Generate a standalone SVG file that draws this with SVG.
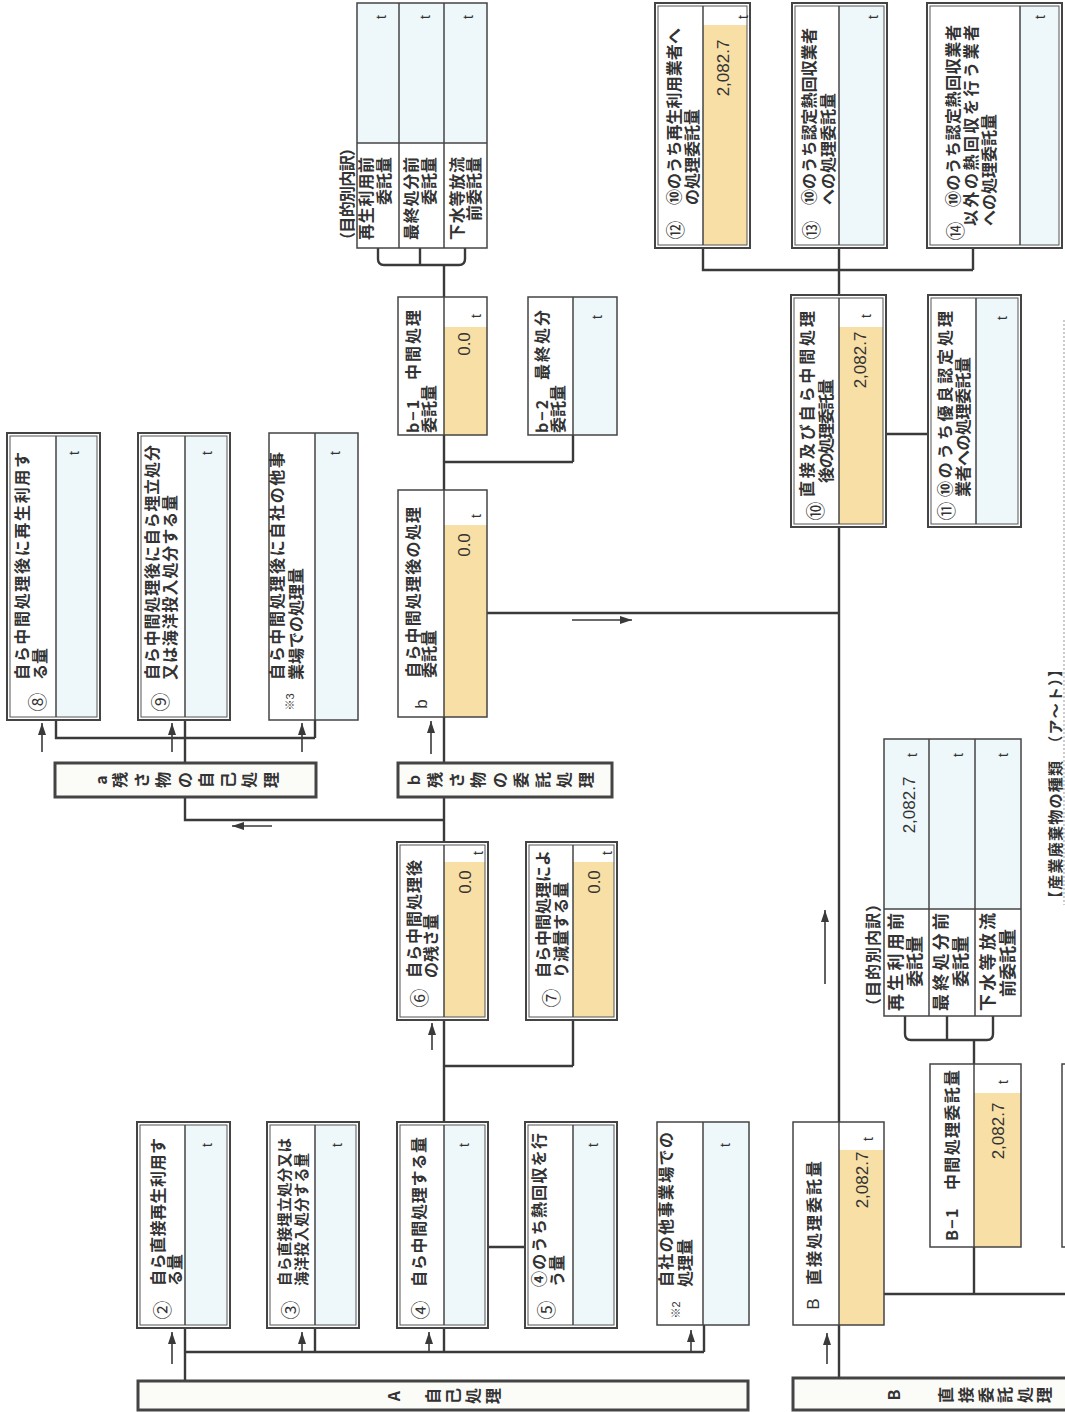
<svg xmlns="http://www.w3.org/2000/svg" width="1065" height="1412" viewBox="0 0 1065 1412">
<style>
.bg{fill:#ffffff}
.c{fill:none;stroke:#3a3a3a;stroke-width:2.4}
.ar{fill:none;stroke:#3a3a3a;stroke-width:1.6;marker-end:url(#ah)}
.fr{fill:#ffffff;stroke:none}
.so{fill:none;stroke:#444;stroke-width:2}
.si{fill:none;stroke:#555;stroke-width:1}
.ss{fill:none;stroke:#444;stroke-width:1.5}
.dv{stroke:#444;stroke-width:1.5}
.blue{fill:#eef8fb}
.org{fill:#f8dfa6}
.bar{fill:#fbfbf8;stroke:#444;stroke-width:3}
.l{font-family:"Noto Sans CJK JP","Noto Sans",sans-serif;font-size:16px;font-weight:bold;fill:#333;dominant-baseline:central}
.le{font-family:"Noto Sans CJK JP","Noto Sans",sans-serif;font-size:16px;font-weight:bold;fill:#333;dominant-baseline:central;text-anchor:end}
.cn{font-family:"Noto Sans CJK JP","Noto Sans",sans-serif;font-size:19px;fill:#333;dominant-baseline:central;text-anchor:middle}
.bc{font-family:"Noto Sans CJK JP","Noto Sans",sans-serif;font-size:16px;font-weight:bold;fill:#333;dominant-baseline:central;text-anchor:middle}
.v{font-family:"Liberation Sans",Arial,sans-serif;font-size:17px;fill:#333;dominant-baseline:central;text-anchor:middle}
.t{font-family:"Liberation Sans",Arial,sans-serif;font-size:14px;fill:#333;dominant-baseline:central;text-anchor:middle}
.sm{font-family:"Liberation Sans","Noto Sans CJK JP",sans-serif;font-size:11px;fill:#333;dominant-baseline:central;text-anchor:middle}
.lat{font-family:"Liberation Sans",Arial,sans-serif;font-size:17px;fill:#333;dominant-baseline:central;text-anchor:middle}
.dot{fill:none;stroke:#999;stroke-width:1;stroke-dasharray:2 2}
</style>
<defs>
<marker id="ah" viewBox="0 0 12 8" refX="12" refY="4" markerWidth="12" markerHeight="8" markerUnits="userSpaceOnUse" orient="auto">
<path d="M0,0 L12,4 L0,8 z" fill="#3a3a3a"/>
</marker>
</defs>
<rect class="bg" x="0" y="0" width="1065" height="1412"/>

<g id="connectors">
<path class="c" d="M185,1328 V1381 M185,1352 H704 M315,1328 V1352 M444,1328 V1352 M704,1325 V1352 M488,1247 H525 M444,265 V1122 M444,1066 H573 M573,1020 V1066 M444,462 H573 M573,435 V462 M185,797 V820 H444 M56,720 V738 H315 M185,720 V763 M315,720 V738 M703,248 V270 H973 M973,248 V270 M839,248 V295 M886,434 H928 M839,527 V1122 M487,613 H839 M839,1325 V1378 M974,1040 V1064 M974,1247 V1294 M884,1294 H1065"/>
<path class="c" d="M378,248 V259 Q378,265 384,265 H459 Q465,265 465,259 V248 M420,248 V265"/>
<path class="c" d="M905,1016 V1034 Q905,1040 911,1040 H987 Q993,1040 993,1034 V1016 M947,1016 V1040"/>
<path class="ar" d="M172,1364 V1332"/>
<path class="ar" d="M302,1352 V1332"/>
<path class="ar" d="M429,1352 V1332"/>
<path class="ar" d="M691,1352 V1330"/>
<path class="ar" d="M432,1050 V1023"/>
<path class="ar" d="M42,752 V723"/>
<path class="ar" d="M172,752 V723"/>
<path class="ar" d="M302,752 V723"/>
<path class="ar" d="M431,754 V721"/>
<path class="ar" d="M272,826 H232"/>
<path class="ar" d="M572,620 H632"/>
<path class="ar" d="M825,984 V910"/>
<path class="ar" d="M827,1364 V1333"/>
<path class="ss" d="M1065,1064 H1062 V1247 H1065"/>
</g>

<g id="barA">
<rect class="bar" x="138" y="1381" width="610" height="29"/>
<text class="bc" x="393" y="1396" transform="rotate(-90 393 1396)">A</text>
<text class="bc" x="432" y="1396" transform="rotate(-90 432 1396)">自</text>
<text class="bc" x="452" y="1396" transform="rotate(-90 452 1396)">己</text>
<text class="bc" x="472" y="1396" transform="rotate(-90 472 1396)">処</text>
<text class="bc" x="492" y="1396" transform="rotate(-90 492 1396)">理</text>
</g>
<g id="barB">
<rect class="bar" x="793" y="1378" width="280" height="32"/>
<text class="bc" x="893" y="1395" transform="rotate(-90 893 1395)">B</text>
<text class="bc" x="945" y="1395" transform="rotate(-90 945 1395)">直</text>
<text class="bc" x="965" y="1395" transform="rotate(-90 965 1395)">接</text>
<text class="bc" x="985" y="1395" transform="rotate(-90 985 1395)">委</text>
<text class="bc" x="1004" y="1395" transform="rotate(-90 1004 1395)">託</text>
<text class="bc" x="1024" y="1395" transform="rotate(-90 1024 1395)">処</text>
<text class="bc" x="1043" y="1395" transform="rotate(-90 1043 1395)">理</text>
</g>
<g id="bara">
<rect class="bar" x="55" y="763" width="261" height="34"/>
<text class="bc" x="100" y="780" transform="rotate(-90 100 780)">a</text>
<text class="bc" x="119" y="780" transform="rotate(-90 119 780)">残</text>
<text class="bc" x="140.5" y="780" transform="rotate(-90 140.5 780)">さ</text>
<text class="bc" x="162" y="780" transform="rotate(-90 162 780)">物</text>
<text class="bc" x="183.5" y="780" transform="rotate(-90 183.5 780)">の</text>
<text class="bc" x="205" y="780" transform="rotate(-90 205 780)">自</text>
<text class="bc" x="226.5" y="780" transform="rotate(-90 226.5 780)">己</text>
<text class="bc" x="248" y="780" transform="rotate(-90 248 780)">処</text>
<text class="bc" x="269.5" y="780" transform="rotate(-90 269.5 780)">理</text>
</g>
<g id="barb">
<rect class="bar" x="398" y="763" width="214" height="34"/>
<text class="bc" x="413" y="780" transform="rotate(-90 413 780)">b</text>
<text class="bc" x="434" y="780" transform="rotate(-90 434 780)">残</text>
<text class="bc" x="455.5" y="780" transform="rotate(-90 455.5 780)">さ</text>
<text class="bc" x="477" y="780" transform="rotate(-90 477 780)">物</text>
<text class="bc" x="498.5" y="780" transform="rotate(-90 498.5 780)">の</text>
<text class="bc" x="520" y="780" transform="rotate(-90 520 780)">委</text>
<text class="bc" x="541.5" y="780" transform="rotate(-90 541.5 780)">託</text>
<text class="bc" x="563" y="780" transform="rotate(-90 563 780)">処</text>
<text class="bc" x="584.5" y="780" transform="rotate(-90 584.5 780)">理</text>
</g>

<g id="n2">
<rect class="fr" x="137" y="1122" width="93" height="206"/>
<rect class="blue" x="185" y="1125" width="42" height="200"/>
<rect class="so" x="137" y="1122" width="93" height="206"/>
<rect class="si" x="140" y="1125" width="87" height="200"/>
<line class="dv" x1="185" y1="1125" x2="185" y2="1325"/>
<text class="cn" transform="translate(161,1310) rotate(-90)">②</text>
<text class="l" transform="translate(157,1286) rotate(-90)" textLength="148">自ら直接再生利用す</text>
<text class="l" transform="translate(174,1286) rotate(-90)">る量</text>
<text class="t" transform="translate(207,1145) rotate(-90)">t</text>
</g>
<g id="n3">
<rect class="fr" x="267" y="1122" width="92" height="206"/>
<rect class="blue" x="315" y="1125" width="41" height="200"/>
<rect class="so" x="267" y="1122" width="92" height="206"/>
<rect class="si" x="270" y="1125" width="86" height="200"/>
<line class="dv" x1="315" y1="1125" x2="315" y2="1325"/>
<text class="cn" transform="translate(289,1310) rotate(-90)">③</text>
<text class="l" style="font-size:14.5px" transform="translate(283,1286) rotate(-90)" textLength="148">自ら直接埋立処分又は</text>
<text class="l" style="font-size:14.5px" transform="translate(300,1286) rotate(-90)" textLength="133">海洋投入処分する量</text>
<text class="t" transform="translate(337,1145) rotate(-90)">t</text>
</g>
<g id="n4">
<rect class="fr" x="397" y="1122" width="91" height="206"/>
<rect class="blue" x="444" y="1125" width="41" height="200"/>
<rect class="so" x="397" y="1122" width="91" height="206"/>
<rect class="si" x="400" y="1125" width="85" height="200"/>
<line class="dv" x1="444" y1="1125" x2="444" y2="1325"/>
<text class="cn" transform="translate(419,1310) rotate(-90)">④</text>
<text class="l" transform="translate(418,1287) rotate(-90)" textLength="150">自ら中間処理する量</text>
<text class="t" transform="translate(464,1145) rotate(-90)">t</text>
</g>
<g id="n5">
<rect class="fr" x="525" y="1122" width="92" height="206"/>
<rect class="blue" x="573" y="1125" width="41" height="200"/>
<rect class="so" x="525" y="1122" width="92" height="206"/>
<rect class="si" x="528" y="1125" width="86" height="200"/>
<line class="dv" x1="573" y1="1125" x2="573" y2="1325"/>
<text class="cn" transform="translate(545,1310) rotate(-90)">⑤</text>
<text class="l" transform="translate(538,1287) rotate(-90)" textLength="154">④のうち熱回収を行</text>
<text class="l" transform="translate(556,1287) rotate(-90)">う量</text>
<text class="t" transform="translate(593,1145) rotate(-90)">t</text>
</g>
<g id="n6">
<rect class="fr" x="397" y="842" width="91" height="178"/>
<rect class="org" x="444" y="862" width="41" height="155"/>
<rect class="so" x="397" y="842" width="91" height="178"/>
<rect class="si" x="400" y="845" width="85" height="172"/>
<line class="dv" x1="444" y1="845" x2="444" y2="1017"/>
<text class="cn" transform="translate(418,998) rotate(-90)">⑥</text>
<text class="l" transform="translate(413,978) rotate(-90)" textLength="118">自ら中間処理後</text>
<text class="l" transform="translate(430,978) rotate(-90)">の残さ量</text>
<text class="v" transform="translate(465,882) rotate(-90)">0.0</text>
<text class="t" transform="translate(478,853) rotate(-90)">t</text>
</g>
<g id="n7">
<rect class="fr" x="526" y="842" width="91" height="178"/>
<rect class="org" x="573" y="862" width="41" height="155"/>
<rect class="so" x="526" y="842" width="91" height="178"/>
<rect class="si" x="529" y="845" width="85" height="172"/>
<line class="dv" x1="573" y1="845" x2="573" y2="1017"/>
<text class="cn" transform="translate(550,998) rotate(-90)">⑦</text>
<text class="l" transform="translate(542,978) rotate(-90)" textLength="128">自ら中間処理によ</text>
<text class="l" transform="translate(560,978) rotate(-90)">り減量する量</text>
<text class="v" transform="translate(594,882) rotate(-90)">0.0</text>
<text class="t" transform="translate(607,853) rotate(-90)">t</text>
</g>
<g id="n8">
<rect class="fr" x="7" y="433" width="93" height="287"/>
<rect class="blue" x="56" y="436" width="41" height="281"/>
<rect class="so" x="7" y="433" width="93" height="287"/>
<rect class="si" x="10" y="436" width="87" height="281"/>
<line class="dv" x1="56" y1="436" x2="56" y2="717"/>
<text class="cn" transform="translate(36,702) rotate(-90)">⑧</text>
<text class="l" transform="translate(21,680) rotate(-90)" textLength="228">自ら中間処理後に再生利用す</text>
<text class="l" transform="translate(39,680) rotate(-90)">る量</text>
<text class="t" transform="translate(74,453) rotate(-90)">t</text>
</g>
<g id="n9">
<rect class="fr" x="138" y="433" width="92" height="287"/>
<rect class="blue" x="185" y="436" width="42" height="281"/>
<rect class="so" x="138" y="433" width="92" height="287"/>
<rect class="si" x="141" y="436" width="86" height="281"/>
<line class="dv" x1="185" y1="436" x2="185" y2="717"/>
<text class="cn" transform="translate(159,702) rotate(-90)">⑨</text>
<text class="l" transform="translate(151,680) rotate(-90)" textLength="235">自ら中間処理後に自ら埋立処分</text>
<text class="l" transform="translate(169,680) rotate(-90)" textLength="185">又は海洋投入処分する量</text>
<text class="t" transform="translate(207,453) rotate(-90)">t</text>
</g>
<g id="n10">
<rect class="fr" x="791" y="295" width="95" height="232"/>
<rect class="org" x="839" y="327" width="44" height="197"/>
<rect class="so" x="791" y="295" width="95" height="232"/>
<rect class="si" x="794" y="298" width="89" height="226"/>
<line class="dv" x1="839" y1="298" x2="839" y2="524"/>
<text class="cn" transform="translate(814,511) rotate(-90)">⑩</text>
<text class="l" transform="translate(806,497) rotate(-90)" textLength="186">直接及び自ら中間処理</text>
<text class="l" transform="translate(825,483) rotate(-90)" textLength="104">後の処理委託量</text>
<text class="v" transform="translate(860,360) rotate(-90)">2,082.7</text>
<text class="t" transform="translate(866,316) rotate(-90)">t</text>
</g>
<g id="n11">
<rect class="fr" x="928" y="295" width="93" height="232"/>
<rect class="blue" x="976" y="298" width="42" height="226"/>
<rect class="so" x="928" y="295" width="93" height="232"/>
<rect class="si" x="931" y="298" width="87" height="226"/>
<line class="dv" x1="976" y1="298" x2="976" y2="524"/>
<text class="cn" transform="translate(945,511) rotate(-90)">⑪</text>
<text class="l" transform="translate(944,497) rotate(-90)" textLength="186">⑩のうち優良認定処理</text>
<text class="l" transform="translate(962,497) rotate(-90)" textLength="140">業者への処理委託量</text>
<text class="t" transform="translate(1002,318) rotate(-90)">t</text>
</g>
<g id="n12">
<rect class="fr" x="655" y="3" width="95" height="245"/>
<rect class="org" x="703" y="25" width="44" height="220"/>
<rect class="so" x="655" y="3" width="95" height="245"/>
<rect class="si" x="658" y="6" width="89" height="239"/>
<line class="dv" x1="703" y1="6" x2="703" y2="245"/>
<text class="cn" transform="translate(674,230) rotate(-90)">⑫</text>
<text class="l" transform="translate(673,205) rotate(-90)" textLength="177">⑩のうち再生利用業者へ</text>
<text class="l" transform="translate(691,205) rotate(-90)">の処理委託量</text>
<text class="v" transform="translate(723,68) rotate(-90)">2,082.7</text>
<text class="t" transform="translate(743,17) rotate(-90)">t</text>
</g>
<g id="n13">
<rect class="fr" x="792" y="3" width="95" height="245"/>
<rect class="blue" x="839" y="6" width="45" height="239"/>
<rect class="so" x="792" y="3" width="95" height="245"/>
<rect class="si" x="795" y="6" width="89" height="239"/>
<line class="dv" x1="839" y1="6" x2="839" y2="245"/>
<text class="cn" transform="translate(810,230) rotate(-90)">⑬</text>
<text class="l" transform="translate(808,205) rotate(-90)" textLength="177">⑩のうち認定熱回収業者</text>
<text class="l" transform="translate(827,205) rotate(-90)">への処理委託量</text>
<text class="t" transform="translate(873,17) rotate(-90)">t</text>
</g>
<g id="n14">
<rect class="fr" x="927" y="3" width="135" height="245"/>
<rect class="blue" x="1020" y="6" width="39" height="239"/>
<rect class="so" x="927" y="3" width="135" height="245"/>
<rect class="si" x="930" y="6" width="129" height="239"/>
<line class="dv" x1="1020" y1="6" x2="1020" y2="245"/>
<text class="cn" transform="translate(954,231) rotate(-90)">⑭</text>
<text class="l" transform="translate(952,207) rotate(-90)" textLength="182">⑩のうち認定熱回収業者</text>
<text class="l" transform="translate(970,226) rotate(-90)" textLength="201">以外の熱回収を行う業者</text>
<text class="l" transform="translate(988,226) rotate(-90)">への処理委託量</text>
<text class="t" transform="translate(1040,17) rotate(-90)">t</text>
</g>

<g id="s2">
<rect class="fr" x="657" y="1122" width="92" height="203"/>
<rect class="blue" x="703" y="1122" width="46" height="203"/>
<rect class="ss" x="657" y="1122" width="92" height="203"/>
<line class="dv" x1="703" y1="1122" x2="703" y2="1325"/>
<text class="sm" transform="translate(676,1310) rotate(-90)">※2</text>
<text class="l" transform="translate(665,1287) rotate(-90)" textLength="155">自社の他事業場での</text>
<text class="l" transform="translate(684,1287) rotate(-90)">処理量</text>
<text class="t" transform="translate(725,1145) rotate(-90)">t</text>
</g>
<g id="s3">
<rect class="fr" x="269" y="433" width="89" height="287"/>
<rect class="blue" x="315" y="433" width="43" height="287"/>
<rect class="ss" x="269" y="433" width="89" height="287"/>
<line class="dv" x1="315" y1="433" x2="315" y2="720"/>
<text class="sm" transform="translate(290,702) rotate(-90)">※3</text>
<text class="l" transform="translate(276,680) rotate(-90)" textLength="228">自ら中間処理後に自社の他事</text>
<text class="l" transform="translate(295,680) rotate(-90)">業場での処理量</text>
<text class="t" transform="translate(335,453) rotate(-90)">t</text>
</g>
<g id="nb">
<rect class="fr" x="398" y="490" width="89" height="227"/>
<rect class="org" x="444" y="525" width="43" height="192"/>
<rect class="ss" x="398" y="490" width="89" height="227"/>
<line class="dv" x1="444" y1="490" x2="444" y2="717"/>
<text class="lat" transform="translate(421,704) rotate(-90)">b</text>
<text class="l" transform="translate(412,678) rotate(-90)" textLength="171">自ら中間処理後の処理</text>
<text class="l" transform="translate(428,678) rotate(-90)">委託量</text>
<text class="v" transform="translate(464,545) rotate(-90)">0.0</text>
<text class="t" transform="translate(476,516) rotate(-90)">t</text>
</g>
<g id="nb1">
<rect class="fr" x="398" y="297" width="89" height="138"/>
<rect class="org" x="444" y="327" width="43" height="108"/>
<rect class="ss" x="398" y="297" width="89" height="138"/>
<line class="dv" x1="444" y1="297" x2="444" y2="435"/>
<text class="l" transform="translate(412,433) rotate(-90)" textLength="123">b−1　中間処理</text>
<text class="l" transform="translate(428,433) rotate(-90)">委託量</text>
<text class="v" transform="translate(464,344) rotate(-90)">0.0</text>
<text class="t" transform="translate(476,316) rotate(-90)">t</text>
</g>
<g id="nb2">
<rect class="fr" x="528" y="297" width="89" height="138"/>
<rect class="blue" x="573" y="297" width="44" height="138"/>
<rect class="ss" x="528" y="297" width="89" height="138"/>
<line class="dv" x1="573" y1="297" x2="573" y2="435"/>
<text class="l" transform="translate(541,433) rotate(-90)" textLength="123">b−2　最終処分</text>
<text class="l" transform="translate(557,433) rotate(-90)">委託量</text>
<text class="t" transform="translate(597,317) rotate(-90)">t</text>
</g>
<g id="nB">
<rect class="fr" x="793" y="1122" width="91" height="203"/>
<rect class="org" x="839" y="1150" width="45" height="175"/>
<rect class="ss" x="793" y="1122" width="91" height="203"/>
<line class="dv" x1="839" y1="1122" x2="839" y2="1325"/>
<text class="lat" transform="translate(813,1304) rotate(-90)">B</text>
<text class="l" transform="translate(813,1285) rotate(-90)" textLength="124">直接処理委託量</text>
<text class="v" transform="translate(862,1180) rotate(-90)">2,082.7</text>
<text class="t" transform="translate(868,1139) rotate(-90)">t</text>
</g>
<g id="nB1">
<rect class="fr" x="930" y="1064" width="91" height="183"/>
<rect class="org" x="974" y="1093" width="47" height="154"/>
<rect class="ss" x="930" y="1064" width="91" height="183"/>
<line class="dv" x1="974" y1="1064" x2="974" y2="1247"/>
<text class="l" transform="translate(951,1241) rotate(-90)" textLength="171">B−1　中間処理委託量</text>
<text class="v" transform="translate(998,1131) rotate(-90)">2,082.7</text>
<text class="t" transform="translate(1003,1082) rotate(-90)">t</text>
</g>

<g id="tbl1">
<rect class="blue" x="357" y="3" width="130" height="140"/>
<rect class="ss" x="357" y="3" width="130" height="245"/>
<line class="dv" x1="399" y1="3" x2="399" y2="248"/>
<line class="dv" x1="444" y1="3" x2="444" y2="248"/>
<line class="dv" x1="357" y1="143" x2="487" y2="143"/>
<text class="l" transform="translate(346,248) rotate(-90)" textLength="108">（目的別内訳）</text>
<text class="l" transform="translate(365,240) rotate(-90)" textLength="83">再生利用前</text>
<text class="le" transform="translate(383,157) rotate(-90)">委託量</text>
<text class="l" transform="translate(410,240) rotate(-90)" textLength="83">最終処分前</text>
<text class="le" transform="translate(428,157) rotate(-90)">委託量</text>
<text class="l" transform="translate(456,240) rotate(-90)" textLength="83">下水等放流</text>
<text class="le" transform="translate(473,157) rotate(-90)">前委託量</text>
<text class="t" transform="translate(381,17) rotate(-90)">t</text>
<text class="t" transform="translate(425,17) rotate(-90)">t</text>
<text class="t" transform="translate(468,17) rotate(-90)">t</text>
</g>
<g id="tbl2">
<rect class="blue" x="884" y="739" width="137" height="170"/>
<rect class="ss" x="884" y="739" width="137" height="277"/>
<line class="dv" x1="929" y1="739" x2="929" y2="1016"/>
<line class="dv" x1="975" y1="739" x2="975" y2="1016"/>
<line class="dv" x1="884" y1="909" x2="1021" y2="909"/>
<text class="l" transform="translate(872,1014) rotate(-90)" textLength="118">（目的別内訳）</text>
<text class="l" style="font-size:17px" transform="translate(894,1011) rotate(-90)" textLength="98">再生利用前</text>
<text class="l" style="font-size:17px" transform="translate(913,987) rotate(-90)">委託量</text>
<text class="l" style="font-size:17px" transform="translate(939,1011) rotate(-90)" textLength="98">最終処分前</text>
<text class="l" style="font-size:17px" transform="translate(959,987) rotate(-90)">委託量</text>
<text class="l" style="font-size:17px" transform="translate(986,1011) rotate(-90)" textLength="98">下水等放流</text>
<text class="l" style="font-size:17px" transform="translate(1006,997) rotate(-90)">前委託量</text>
<text class="v" transform="translate(909,805) rotate(-90)">2,082.7</text>
<text class="t" transform="translate(912,755) rotate(-90)">t</text>
<text class="t" transform="translate(958,755) rotate(-90)">t</text>
<text class="t" transform="translate(1003,755) rotate(-90)">t</text>
</g>

<g id="footer">
<path class="dot" d="M1064,320 V905"/>
<text class="l" style="font-size:15px" transform="translate(1054,906) rotate(-90)" textLength="244">【産業廃棄物の種類　（ア〜ト）】</text>
</g>
</svg>
